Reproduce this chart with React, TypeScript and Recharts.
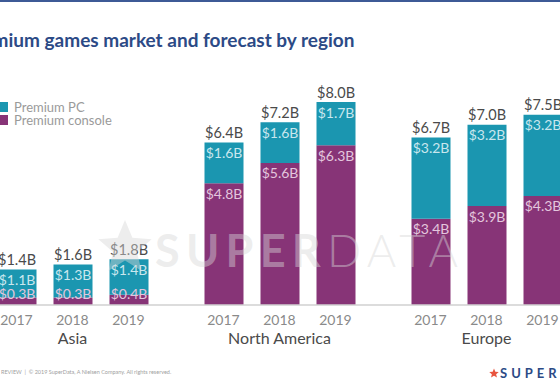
import { BarChart, Bar, XAxis, YAxis, LabelList } from "recharts";

const years = ["2017", "2018", "2019"];
const regions = ["Asia", "North America", "Europe"];

// $B values per region, in year order
const consoleValues = [
  [0.3, 0.3, 0.4],
  [4.8, 5.6, 6.3],
  [3.4, 3.9, 4.3],
];
const pcValues = [
  [1.1, 1.3, 1.4],
  [1.6, 1.6, 1.7],
  [3.2, 3.2, 3.2],
];
const totals = [
  [1.4, 1.6, 1.8],
  [6.4, 7.2, 8.0],
  [6.7, 7.0, 7.5],
];

const TEAL = "#1b96b0";
const PURPLE = "#873477";
const FONT = "Lato, 'Open Sans', sans-serif";

const CHART_W = 207;
const CHART_H = 390;
const LEFT0 = -31.5;

const fmt = (v: number) => `$${v.toFixed(1)}B`;

// segment label near the top of its segment, kept inside the bar for thin slices
function segmentLabel(color: string) {
  return (props: any) => {
    const { x, y, width, height, value } = props;
    const cy = Math.min(y + 10, y + height - 12);
    return (
      <text
        x={x + width / 2}
        y={cy}
        textAnchor="middle"
        dominantBaseline="central"
        fill={color}
        fontSize={14}
        fontFamily={FONT}
      >
        {fmt(Number(value))}
      </text>
    );
  };
}

function TotalLabel(props: any) {
  const { x, y, width, value } = props;
  return (
    <text
      x={x + width / 2}
      y={y - 10}
      textAnchor="middle"
      dominantBaseline="central"
      fill="#4a4a4a"
      fontSize={14.5}
      fontFamily={FONT}
    >
      {fmt(Number(value))}
    </text>
  );
}

function RegionChart({ index }: { index: number }) {
  const data = years.map((year, i) => ({
    year,
    console: consoleValues[index][i],
    pc: pcValues[index][i],
    total: totals[index][i],
  }));
  return (
    <div style={{ position: "absolute", left: LEFT0 + index * CHART_W, top: 0 }}>
      <BarChart
        width={CHART_W}
        height={CHART_H}
        data={data}
        margin={{ top: 102, right: 0, bottom: 25, left: 0 }}
        barSize={39}
      >
        <YAxis hide domain={[0, 8]} />
        <XAxis
          dataKey="year"
          padding={{ left: 19.5, right: 19.5 }}
          axisLine={{ stroke: "#d0d0d0", strokeWidth: 1.5 }}
          tickLine={false}
          tickMargin={4}
          tick={{ fill: "#8a8a8a", fontSize: 14, fontFamily: FONT }}
          height={60}
          label={{
            value: regions[index],
            position: "insideTop",
            offset: 28,
            fill: "#4a4a4a",
            fontSize: 16,
            fontFamily: FONT,
          }}
        />
        <Bar dataKey="console" stackId="a" fill={PURPLE} isAnimationActive={false}>
          <LabelList dataKey="console" content={segmentLabel("#e3c6dd")} />
        </Bar>
        <Bar dataKey="pc" stackId="a" fill={TEAL} isAnimationActive={false}>
          <LabelList dataKey="pc" content={segmentLabel("#c9e7ee")} />
          <LabelList dataKey="total" content={TotalLabel} />
        </Bar>
      </BarChart>
    </div>
  );
}

function starPoints(cx: number, cy: number, r: number) {
  const pts: string[] = [];
  for (let i = 0; i < 10; i++) {
    const rad = i % 2 === 0 ? r : r * 0.45;
    const a = -Math.PI / 2 + (i * Math.PI) / 5;
    pts.push(`${cx + rad * Math.cos(a)},${cy + rad * Math.sin(a)}`);
  }
  return pts.join(" ");
}

export default function App() {
  return (
    <div
      style={{
        position: "absolute",
        left: 0,
        top: 0,
        width: 560,
        height: 390,
        overflow: "hidden",
        background: "#fff",
        fontFamily: FONT,
      }}
    >
      <div style={{ position: "absolute", left: 0, top: 0, width: 560, height: 2, background: "#3d5a96" }} />
      <div
        style={{
          position: "absolute",
          left: -36,
          top: 28,
          fontSize: 19,
          fontWeight: 700,
          color: "#2c4a86",
          whiteSpace: "nowrap",
        }}
      >
        Premium games market and forecast by region
      </div>

      {regions.map((_, i) => (
        <RegionChart key={i} index={i} />
      ))}

      {/* legend */}
      <div style={{ position: "absolute", left: -2, top: 101, fontSize: 13, color: "#9a9a9a", lineHeight: "12px" }}>
        {[
          { name: "Premium PC", color: TEAL },
          { name: "Premium console", color: PURPLE },
        ].map((item) => (
          <div key={item.name} style={{ display: "flex", alignItems: "center", height: 12.5 }}>
            <span style={{ width: 10, height: 10, background: item.color, marginRight: 6, display: "inline-block" }} />
            {item.name}
          </div>
        ))}
      </div>

      {/* watermark */}
      <svg
        width={560}
        height={390}
        style={{ position: "absolute", left: 0, top: 0, pointerEvents: "none" }}
      >
        <polygon points={starPoints(125, 248, 28)} fill="rgba(215,215,215,0.45)" />
        <text
          x={155}
          y={267}
          fontSize={45}
          fontFamily={FONT}
          fill="rgba(215,215,215,0.45)"
          textLength={303}
          lengthAdjust="spacing"
        >
          <tspan fontWeight={700}>SUPER</tspan>
          <tspan fontWeight={300}>DATA</tspan>
        </text>
      </svg>

      {/* footer */}
      <div
        style={{
          position: "absolute",
          left: 1,
          top: 369,
          fontSize: 5.5,
          color: "#a0a0a0",
          whiteSpace: "nowrap",
        }}
      >
        REVIEW&nbsp; |&nbsp; © 2019 SuperData, A Nielsen Company. All rights reserved.
      </div>
      <div
        style={{
          position: "absolute",
          left: 489,
          top: 365,
          fontSize: 13,
          fontWeight: 700,
          color: "#2c4a86",
          whiteSpace: "nowrap",
          letterSpacing: 4,
          display: "flex",
          alignItems: "center",
        }}
      >
        <svg width={10} height={10} style={{ marginRight: 1 }}>
          <polygon points={starPoints(5, 5.5, 5)} fill="#e8543f" />
        </svg>
        SUPERDATA
      </div>
    </div>
  );
}
